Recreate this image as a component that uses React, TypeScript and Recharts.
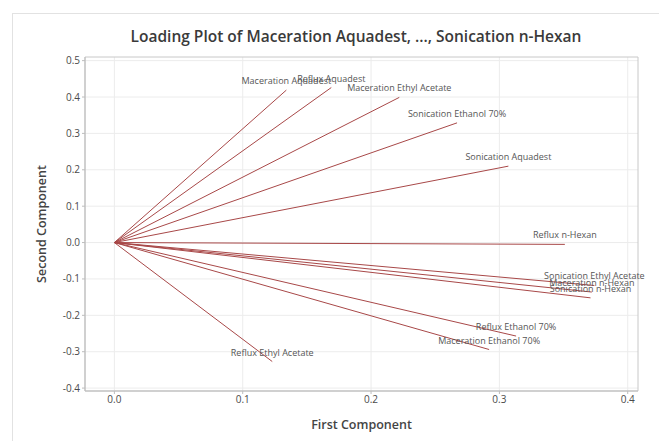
import { CartesianGrid, ComposedChart, Line, ReferenceArea, XAxis, YAxis } from "recharts";

const variables = [
  "Maceration Aquadest",
  "Reflux Aquadest",
  "Maceration Ethyl Acetate",
  "Sonication Ethanol 70%",
  "Sonication Aquadest",
  "Reflux n-Hexan",
  "Sonication Ethyl Acetate",
  "Maceration n-Hexan",
  "Sonication n-Hexan",
  "Reflux Ethanol 70%",
  "Maceration Ethanol 70%",
  "Reflux Ethyl Acetate",
];
const firstComponent = [0.134, 0.169, 0.222, 0.267, 0.307, 0.351, 0.374, 0.372, 0.371, 0.313, 0.292, 0.123];
const secondComponent = [0.419, 0.426, 0.399, 0.329, 0.21, -0.005, -0.118, -0.136, -0.152, -0.257, -0.294, -0.327];

const xTicks = [0, 0.1, 0.2, 0.3, 0.4];
const yTicks = [-0.4, -0.3, -0.2, -0.1, 0, 0.1, 0.2, 0.3, 0.4, 0.5];
const xDomain = [-0.0229, 0.408];
const yDomain = [-0.408, 0.51];

const FONT = "'Open Sans', 'Noto Sans', sans-serif";
const LINE_COLOR = "#a84848";

const vectors = variables.map((name, i) => ({
  name,
  data: [
    { x: 0, y: 0 },
    { x: firstComponent[i], y: secondComponent[i] },
  ],
}));

function EndLabel(props: any) {
  const { x, y, index, name } = props;
  if (index !== 1) return <g />;
  return (
    <text x={x} y={y - 6} textAnchor="middle" fontSize={9} fontFamily={FONT} fill="#555">
      {name}
    </text>
  );
}

export default function App() {
  return (
    <div style={{ position: "absolute", left: 0, top: 0, width: 659, height: 441, background: "#fff" }}>
      <div
        style={{
          position: "absolute",
          left: 12,
          top: 13,
          width: 646,
          height: 428,
          borderLeft: "1px solid #e2e2e2",
          borderTop: "1px solid #e2e2e2",
        }}
      />
      <div
        style={{
          position: "absolute",
          left: 0,
          width: 712,
          top: 25,
          textAlign: "center",
          fontFamily: FONT,
          fontSize: 15.5,
          fontWeight: 600,
          color: "#3a3a3a",
        }}
      >
        Loading Plot of Maceration Aquadest, ..., Sonication n-Hexan
      </div>
      <div style={{ position: "absolute", left: 0, top: 0 }}>
        <ComposedChart width={659} height={441} margin={{ top: 57, right: 21, left: 35, bottom: 12 }}>
          <CartesianGrid stroke="#ececec" horizontalValues={yTicks} verticalValues={xTicks} />
          <XAxis
            type="number"
            dataKey="x"
            domain={xDomain}
            ticks={xTicks}
            allowDataOverflow
            height={38}
            tickSize={3}
            tickFormatter={(v: number) => v.toFixed(1)}
            tick={{ fontSize: 10, fill: "#4a4a4a", fontFamily: FONT }}
            stroke="#bdbdbd"
            label={{
              value: "First Component",
              position: "insideBottom",
              offset: 0,
              style: { fontSize: 12.5, fontWeight: 600, fill: "#444", fontFamily: FONT },
            }}
          />
          <YAxis
            type="number"
            dataKey="y"
            domain={yDomain}
            ticks={yTicks}
            allowDataOverflow
            width={50}
            tickSize={3}
            tickFormatter={(v: number) => v.toFixed(1)}
            tick={{ fontSize: 10, fill: "#4a4a4a", fontFamily: FONT }}
            stroke="#bdbdbd"
            label={{
              value: "Second Component",
              angle: -90,
              position: "insideLeft",
              offset: 7,
              style: { textAnchor: "middle", fontSize: 12.5, fontWeight: 600, fill: "#444", fontFamily: FONT },
            }}
          />
          <ReferenceArea
            x1={xDomain[0]}
            x2={xDomain[1]}
            y1={yDomain[0]}
            y2={yDomain[1]}
            fill="none"
            stroke="#c8c8c8"
          />
          {vectors.map((v) => (
            <Line
              key={v.name}
              data={v.data}
              dataKey="y"
              type="linear"
              stroke={LINE_COLOR}
              strokeWidth={1}
              dot={false}
              activeDot={false}
              isAnimationActive={false}
              label={(p: any) => <EndLabel {...p} name={v.name} />}
            />
          ))}
        </ComposedChart>
      </div>
    </div>
  );
}
